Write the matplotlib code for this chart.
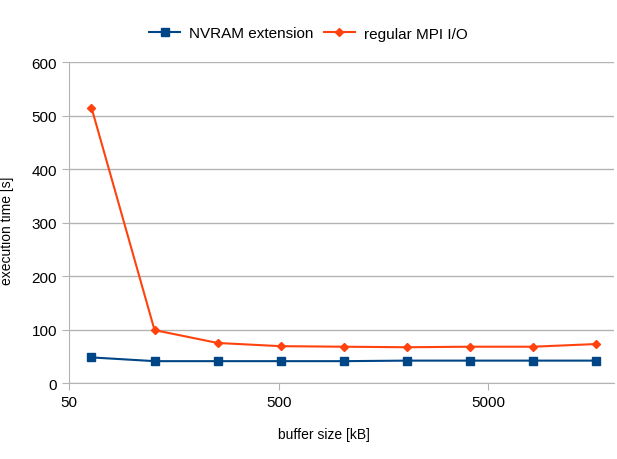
import numpy as np
import matplotlib.pyplot as plt
from matplotlib.ticker import FixedLocator, NullLocator, FixedFormatter

plt.rcParams['font.family'] = ['Liberation Sans', 'DejaVu Sans']

# buffer sizes [kB]
buf_size = [64, 128, 256, 512, 1024, 2048, 4096, 8192, 16384]
# execution times [s]
nvram = [48, 41, 41, 41, 41, 42, 42, 42, 42]
mpi_io = [515, 99, 75, 69, 68, 67, 68, 68, 73]

x_ticks = [50, 500, 5000]
y_ticks = [0, 100, 200, 300, 400, 500, 600]

fig = plt.figure(figsize=(6.17, 4.60), dpi=100)
ax = fig.add_axes([0.1118, 0.165, 0.884, 0.698])

ax.plot(buf_size, nvram, color='#004586', marker='s', markersize=6, linewidth=1.5,
        label='NVRAM extension')
ax.plot(buf_size, mpi_io, color='#ff420e', marker='D', markersize=4.5, linewidth=1.5,
        label='regular MPI I/O')

ax.set_xscale('log')
ax.set_xlim(50, 20000)
ax.set_ylim(0, 600)
ax.xaxis.set_major_locator(FixedLocator(x_ticks))
ax.xaxis.set_major_formatter(FixedFormatter([str(v) for v in x_ticks]))
ax.xaxis.set_minor_locator(NullLocator())
ax.set_yticks(y_ticks)

ax.grid(axis='y', color='#b3b3b3', linewidth=1)
ax.set_axisbelow(True)
for s in ['top', 'right']:
    ax.spines[s].set_visible(False)
for s in ['left', 'bottom']:
    ax.spines[s].set_color('#b3b3b3')
ax.tick_params(axis='both', colors='#b3b3b3', labelcolor='black', labelsize=11, length=5)

ax.set_xlabel('buffer size [kB]', fontsize=10, va='center')
ax.set_ylabel('execution time [s]', fontsize=10, va='center')
ax.xaxis.set_label_coords(0.468, -0.159)
ax.yaxis.set_label_coords(-0.114, 0.477)

fig.legend(*ax.get_legend_handles_labels(), loc='center', bbox_to_anchor=(0.5, 0.925),
           ncol=2, frameon=False, fontsize=11, handlelength=2.0, handletextpad=0.6,
           columnspacing=0.7)

fig.savefig('out.png', dpi=100)
